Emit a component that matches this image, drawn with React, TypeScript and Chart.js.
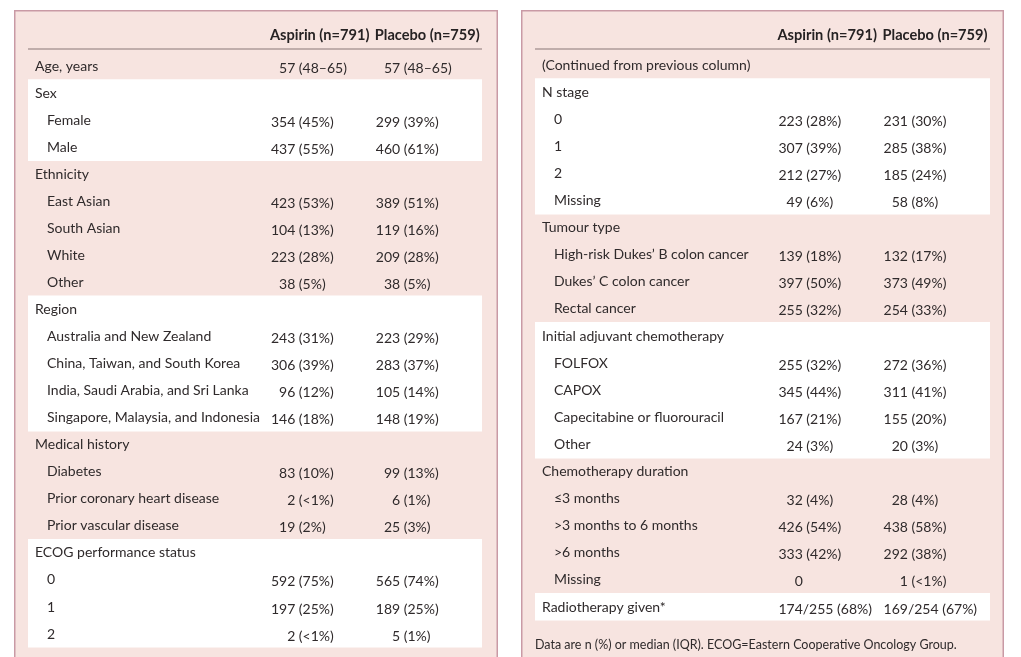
import { useEffect, useRef } from "react";
import { Chart, registerables } from "chart.js";

Chart.register(...registerables);

const columnHeaders = ["Aspirin (n=791)", "Placebo (n=759)"];

const leftLabels = [
  "Age, years", "Sex", "Female", "Male", "Ethnicity", "East Asian", "South Asian", "White", "Other",
  "Region", "Australia and New Zealand", "China, Taiwan, and South Korea",
  "India, Saudi Arabia, and Sri Lanka", "Singapore, Malaysia, and Indonesia",
  "Medical history", "Diabetes", "Prior coronary heart disease", "Prior vascular disease",
  "ECOG performance status", "0", "1", "2",
];
const leftIsGroup = [1, 1, 0, 0, 1, 0, 0, 0, 0, 1, 0, 0, 0, 0, 1, 0, 0, 0, 1, 0, 0, 0];
const leftAspirin = [
  "57 (48–65)", "", "354 (45%)", "437 (55%)", "", "423 (53%)", "104 (13%)", "223 (28%)", "38 (5%)",
  "", "243 (31%)", "306 (39%)", "96 (12%)", "146 (18%)", "", "83 (10%)", "2 (<1%)", "19 (2%)",
  "", "592 (75%)", "197 (25%)", "2 (<1%)",
];
const leftPlacebo = [
  "57 (48–65)", "", "299 (39%)", "460 (61%)", "", "389 (51%)", "119 (16%)", "209 (28%)", "38 (5%)",
  "", "223 (29%)", "283 (37%)", "105 (14%)", "148 (19%)", "", "99 (13%)", "6 (1%)", "25 (3%)",
  "", "565 (74%)", "189 (25%)", "5 (1%)",
];

const rightLabels = [
  "(Continued from previous column)", "N stage", "0", "1", "2", "Missing", "Tumour type",
  "High-risk Dukes’ B colon cancer", "Dukes’ C colon cancer", "Rectal cancer",
  "Initial adjuvant chemotherapy", "FOLFOX", "CAPOX", "Capecitabine or fluorouracil", "Other",
  "Chemotherapy duration", "≤3 months", ">3 months to 6 months", ">6 months", "Missing",
  "Radiotherapy given*",
];
const rightIsGroup = [1, 1, 0, 0, 0, 0, 1, 0, 0, 0, 1, 0, 0, 0, 0, 1, 0, 0, 0, 0, 1];
const rightAspirin = [
  "", "", "223 (28%)", "307 (39%)", "212 (27%)", "49 (6%)", "", "139 (18%)", "397 (50%)", "255 (32%)",
  "", "255 (32%)", "345 (44%)", "167 (21%)", "24 (3%)", "", "32 (4%)", "426 (54%)", "333 (42%)", "0",
  "174/255 (68%)",
];
const rightPlacebo = [
  "", "", "231 (30%)", "285 (38%)", "185 (24%)", "58 (8%)", "", "132 (17%)", "373 (49%)", "254 (33%)",
  "", "272 (36%)", "311 (41%)", "155 (20%)", "20 (3%)", "", "28 (4%)", "438 (58%)", "292 (38%)", "1 (<1%)",
  "169/254 (67%)",
];

const rightFootnote = "Data are n (%) or median (IQR). ECOG=Eastern Cooperative Oncology Group.";

const PINK = "#f7e4e0";
const BORDER = "#c99aa5";
const TEXT = "#2f2a2b";
const FONT = "Lato";

function bandsFor(isGroup: number[]) {
  let g = -1;
  return isGroup.map((v) => {
    if (v) g += 1;
    return g % 2 === 1 ? [0, 1] : null;
  });
}

const tablePlugin = {
  id: "tableText",
  beforeDraw(chart: any) {
    const { ctx, width, height } = chart;
    ctx.save();
    ctx.fillStyle = PINK;
    ctx.fillRect(0, 0, width, height);
    ctx.strokeStyle = BORDER;
    ctx.lineWidth = 1.5;
    ctx.beginPath();
    ctx.moveTo(0.75, height);
    ctx.lineTo(0.75, 0.75);
    ctx.lineTo(width - 0.75, 0.75);
    ctx.lineTo(width - 0.75, height);
    ctx.stroke();
    ctx.restore();
  },
  afterDatasetsDraw(chart: any, _args: any, opts: any) {
    const { ctx, chartArea } = chart;
    const x = chart.scales.x;
    const y = chart.scales.y;
    const colX = [x.getPixelForValue(0.535), x.getPixelForValue(0.766)];
    ctx.save();
    // header
    ctx.fillStyle = "#262223";
    ctx.textBaseline = "middle";
    ctx.textAlign = "left";
    ctx.font = `bold 14.6px ${FONT}`;
    columnHeaders.forEach((h, i) => ctx.fillText(h, colX[i] - 1, 25));
    ctx.strokeStyle = "#8a7777";
    ctx.lineWidth = 1.2;
    ctx.beginPath();
    ctx.moveTo(chartArea.left, 39);
    ctx.lineTo(chartArea.right, 39);
    ctx.stroke();

    ctx.fillStyle = TEXT;
    ctx.font = `14px ${FONT}`;
    const dw = ctx.measureText("0").width;
    (opts.labels as string[]).forEach((lab, i) => {
      const py = y.getPixelForValue(i);
      const lx = chartArea.left + (opts.isGroup[i] ? 7 : 19);
      ctx.fillText(lab, lx, py);
      opts.cols.forEach((col: string[], c: number) => {
        const s = col[i];
        if (!s) return;
        const k = s.indexOf(" (");
        const count = k >= 0 ? s.slice(0, k) : s;
        const pad = Math.max(0, 3 - count.length) * dw;
        ctx.fillText(s, colX[c] + pad, py + 2);
      });
    });
    if (opts.footnote) {
      ctx.font = `12.5px ${FONT}`;
      ctx.fillText(opts.footnote, chartArea.left, 645 - 10);
    }
    ctx.restore();
  },
};

function Panel(props: {
  left: number; width: number; labels: string[]; isGroup: number[]; cols: string[][];
  padding: any; footnote?: string;
}) {
  const ref = useRef<HTMLCanvasElement>(null);
  useEffect(() => {
    if (!ref.current) return;
    const chart = new Chart(ref.current, {
      type: "bar",
      data: {
        labels: props.labels,
        datasets: [
          {
            data: bandsFor(props.isGroup) as any,
            backgroundColor: "#ffffff",
            borderWidth: 0,
            borderSkipped: false,
            barPercentage: 1.03,
            categoryPercentage: 1,
          },
        ],
      },
      options: {
        indexAxis: "y",
        responsive: false,
        animation: false,
        devicePixelRatio: 1,
        events: [],
        layout: { padding: props.padding },
        scales: {
          x: { type: "linear", min: 0, max: 1, display: false },
          y: { type: "category", display: false },
        },
        plugins: {
          legend: { display: false },
          tooltip: { enabled: false },
          tableText: {
            labels: props.labels,
            isGroup: props.isGroup,
            cols: props.cols,
            footnote: props.footnote,
          },
        } as any,
      },
      plugins: [tablePlugin],
    });
    return () => chart.destroy();
  }, []);
  return (
    <canvas
      ref={ref}
      width={props.width}
      height={647}
      style={{ position: "absolute", left: props.left, top: 10, width: props.width, height: 647, display: "block" }}
    />
  );
}

export default function App() {
  return (
    <div style={{ position: "absolute", left: 0, top: 0, width: 1021, height: 657, background: "#ffffff", overflow: "hidden" }}>
      <Panel
        left={14}
        width={484}
        labels={leftLabels}
        isGroup={leftIsGroup}
        cols={[leftAspirin, leftPlacebo]}
        padding={{ left: 14, right: 16, top: 42.5, bottom: 9.4 }}
      />
      <Panel
        left={521}
        width={483}
        labels={rightLabels}
        isGroup={rightIsGroup}
        cols={[rightAspirin, rightPlacebo]}
        padding={{ left: 14, right: 14, top: 41.5, bottom: 36.4 }}
        footnote={rightFootnote}
      />
    </div>
  );
}
